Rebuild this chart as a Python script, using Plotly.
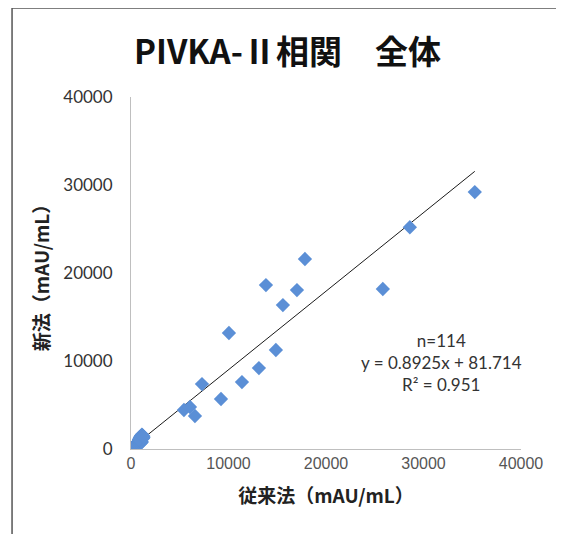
import plotly.graph_objects as go

# Outlying (large-value) samples: conventional method (x) vs new method (y), mAU/mL
big_x = [35260, 28600, 25830, 17840, 17020, 13840, 15580, 10045, 14860, 13120,
         11380, 7280, 9230, 5430, 6050, 6560]
big_y = [29200, 25200, 18180, 21590, 18060, 18630, 16360, 13180, 11250, 9200,
         7610, 7380, 5680, 4430, 4770, 3750]

# Low-value cluster near the origin
small_x = [5, 9, 13, 16, 20, 23, 27, 31, 35, 38, 43, 46, 50, 55, 59, 63, 68, 72, 77, 81,
           87, 92, 96, 101, 107, 113, 118, 123, 130, 138, 144, 151, 160, 167, 175, 183, 193,
           203, 211, 223, 233, 245, 256, 269, 284, 297, 311, 327, 344, 361, 378, 398, 418, 438,
           461, 484, 508, 534, 560, 587, 615, 645, 676, 710, 744, 782, 821, 862, 906, 951,
           985, 1010, 1040, 1070, 1105,
           800, 860, 910, 970, 1030, 1080, 1140, 1190, 1240, 1280, 880, 1000, 1120, 1230, 940,
           1060, 1170, 830, 1260]
small_y = [35, 22, 50, 18, 48, 30, 64, 38, 25, 70, 52, 34, 80, 60, 46, 90, 68, 50, 96, 75,
           60, 110, 86, 70, 123, 94, 80, 138, 107, 92, 155, 125, 110, 170, 141, 123, 192,
           160, 145, 213, 181, 165, 240, 208, 187, 266, 234, 218, 298, 266, 250, 340, 298,
           287, 383, 340, 325, 436, 394, 372, 505, 457, 436, 585, 532, 510, 680, 612, 595,
           770, 700, 690, 880, 800, 790,
           1000, 1120, 1260, 1380, 1500, 1420, 1560, 1380, 1500, 1300, 1050, 1250, 1640, 1180,
           1320, 1480, 1200, 1100, 1420]

# Regression from the chart label
slope = 0.8925
intercept = 81.714
label_lines = ["n=114", "y = 0.8925x + 81.714", "R² = 0.951"]
title_text = "PIVKA-Ⅱ相関　全体"
x_title = "従来法（mAU/mL）"
y_title = "新法（mAU/mL）"
tick_vals = [0, 10000, 20000, 30000, 40000]
tick_text = ["0", "10000", "20000", "30000", "40000"]

all_x = big_x + small_x
all_y = big_y + small_y

fig = go.Figure()

x0, x1 = 0, max(all_x)
fig.add_trace(go.Scatter(
    x=[x0, x1], y=[slope * x0 + intercept, slope * x1 + intercept],
    mode="lines", line=dict(color="#1a1a1a", width=1), hoverinfo="skip", showlegend=False))

fig.add_trace(go.Scatter(
    x=all_x, y=all_y, mode="markers",
    marker=dict(symbol="diamond", size=11, color="#5b8fd6", line=dict(width=0)),
    showlegend=False))

fig.update_layout(
    width=564, height=534,
    margin=dict(l=123, r=51, t=89, b=93),
    paper_bgcolor="white", plot_bgcolor="white",
    showlegend=False,
    xaxis=dict(range=[0, 40000], tickvals=tick_vals, ticktext=tick_text,
               showgrid=False, zeroline=False, showline=True, linecolor="#bfbfbf", linewidth=1,
               ticks="", tickfont=dict(family="Liberation Sans Narrow, Liberation Sans", size=16, color="#555555"),
               title=dict(text=x_title, standoff=18,
                          font=dict(family="Noto Sans CJK JP", size=19, color="#222222", weight="bold"))),
    yaxis=dict(range=[0, 40000], tickvals=tick_vals, ticktext=tick_text,
               showgrid=False, zeroline=False, showline=True, linecolor="#bfbfbf", linewidth=1,
               ticks="", ticklabelstandoff=14,
               tickfont=dict(family="Lato", size=17, color="#333333"),
               title=dict(text=y_title, standoff=8,
                          font=dict(family="Noto Sans CJK JP", size=19, color="#222222", weight="bold"))),
)

fig.add_annotation(text=f"<b>{title_text}</b>", xref="paper", yref="paper",
                   x=0.40, y=1.134, xanchor="center", yanchor="middle", showarrow=False,
                   font=dict(family="Noto Sans CJK JP", size=33, color="#111111"))

fig.add_annotation(text="<br>".join(label_lines), xref="paper", yref="paper",
                   x=0.795, y=0.247, xanchor="center", yanchor="middle", showarrow=False,
                   align="center", font=dict(family="Lato", size=17, color="#333333"))

# frame lines (left and top), as in the scanned chart
fig.add_shape(type="line", xref="paper", yref="paper", x0=-0.305, y0=-0.30, x1=-0.305, y1=1.2528,
              line=dict(color="#555555", width=1.5))
fig.add_shape(type="line", xref="paper", yref="paper", x0=-0.305, y0=1.2528, x1=1.14, y1=1.2528,
              line=dict(color="#555555", width=1.5))

fig.write_html("out.html")
